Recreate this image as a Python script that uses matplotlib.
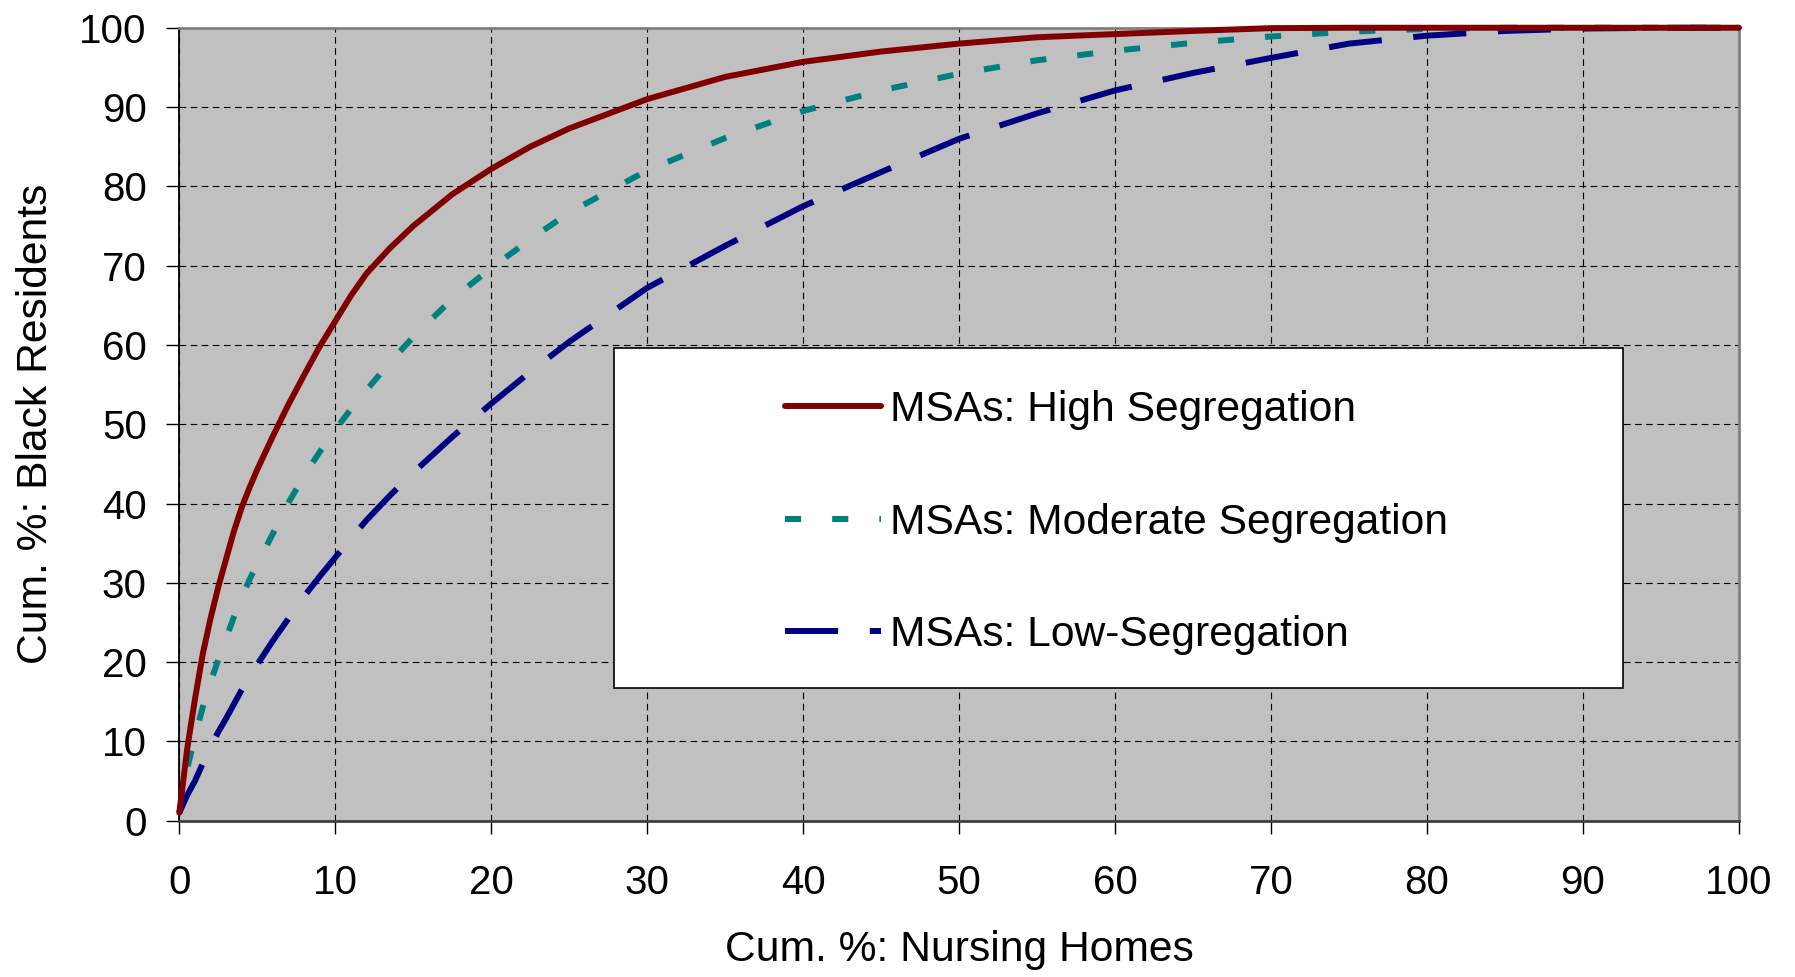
import matplotlib
matplotlib.use("Agg")
from matplotlib import pyplot as plt
from matplotlib.patches import Rectangle

plt.rcParams['font.family'] = ['Liberation Sans', 'DejaVu Sans']

# cumulative % of nursing homes (x) and cumulative % of black residents (y)
pct_homes = [0, 0.5, 1, 1.5, 2, 2.5, 3, 3.5, 4, 4.5, 5, 6, 7, 8, 9, 10, 11,
             12, 13.5, 15, 17.5, 20, 22.5, 25, 30, 35, 40, 45, 50, 55, 60, 65,
             70, 75, 80, 85, 90, 95, 100]
high_seg = [1, 9, 15.3, 21, 25.5, 29.5, 33, 36.5, 39.5, 42, 44.3, 48.5, 52.5,
            56.2, 59.8, 63, 66.2, 69, 72.2, 75, 79, 82.2, 85, 87.3, 91, 93.8,
            95.7, 97, 98, 98.8, 99.2, 99.6, 99.95, 100, 100, 100, 100, 100, 100]
moderate_seg = [1, 6.5, 10.6, 14.3, 17.5, 20.3, 23, 25.7, 28.2, 30.4, 32.4,
                36.2, 40.1, 43.5, 46.5, 49.3, 51.9, 54.3, 57.8, 61, 65.8, 69.7,
                73.3, 76.7, 82, 86.1, 89.5, 92.1, 94.2, 95.9, 97.1, 98.1, 98.9,
                99.5, 99.85, 100, 100, 100, 100]
low_seg = [1, 3.2, 5, 7.2, 9.3, 11.2, 12.9, 14.7, 16.5, 18.1, 19.7, 22.7, 25.5,
           28.3, 30.8, 33.2, 35.6, 37.9, 41, 43.9, 48.4, 52.6, 56.6, 60.4,
           67.2, 72.5, 77.5, 81.8, 86, 89.2, 92.1, 94.3, 96.2, 98, 99, 99.6,
           99.9, 100, 100]

labels = ["MSAs: High Segregation", "MSAs: Moderate Segregation",
          "MSAs: Low-Segregation"]
ticks = list(range(0, 101, 10))

fig = plt.figure(figsize=(17.95, 9.77), dpi=100)
ax = fig.add_axes([0.0999, 0.16, 0.8689, 0.8116])
ax.set_facecolor('#C0C0C0')

l1, = ax.plot(pct_homes, high_seg, color='#800000', lw=4.3,
              solid_capstyle='round', solid_joinstyle='round', clip_on=False,
              zorder=5, label=labels[0])
l2, = ax.plot(pct_homes, moderate_seg, color='#008080', lw=4.3,
              dashes=(2.7, 5.2), dash_capstyle='butt', clip_on=False, zorder=4,
              label=labels[1])
l3, = ax.plot(pct_homes, low_seg, color='#000080', lw=4.3,
              dashes=(8.9, 5.3), dash_capstyle='butt', clip_on=False, zorder=4,
              label=labels[2])

ax.set_xlim(0, 100)
ax.set_ylim(0, 100)
ax.set_xticks(ticks)
ax.set_yticks(ticks)
ax.grid(True, color='black', lw=0.8, linestyle=(0, (6, 4)))
ax.set_axisbelow(True)

ax.tick_params(axis='both', direction='out', length=9.4, width=1,
               labelsize=29, color='black')
ax.tick_params(axis='x', pad=22)
ax.tick_params(axis='y', pad=14)

for s in ['top', 'right']:
    ax.spines[s].set_color('#808080')
    ax.spines[s].set_linewidth(2)
ax.spines['left'].set_color('black')
ax.spines['left'].set_linewidth(1.3)
ax.spines['bottom'].set_color('#404040')
ax.spines['bottom'].set_linewidth(2)

ax.set_xlabel("Cum. %: Nursing Homes", fontsize=30.7, labelpad=20)
ax.set_ylabel("Cum. %: Black Residents", fontsize=30.7, labelpad=17)

# white legend panel
ax.add_patch(Rectangle((0.2785, 0.167), 0.6473, 0.429, transform=ax.transAxes,
                       facecolor='white', edgecolor='black', lw=1.2, zorder=6))
leg = ax.legend(handles=[l1, l2, l3], loc='center left',
                bbox_to_anchor=(0.3885, 0.3757), frameon=False, fontsize=30.7,
                handlelength=2.25, handletextpad=0.21, labelspacing=1.7,
                borderpad=0, borderaxespad=0)
leg.set_zorder(7)

fig.savefig("out.png", dpi=100)
